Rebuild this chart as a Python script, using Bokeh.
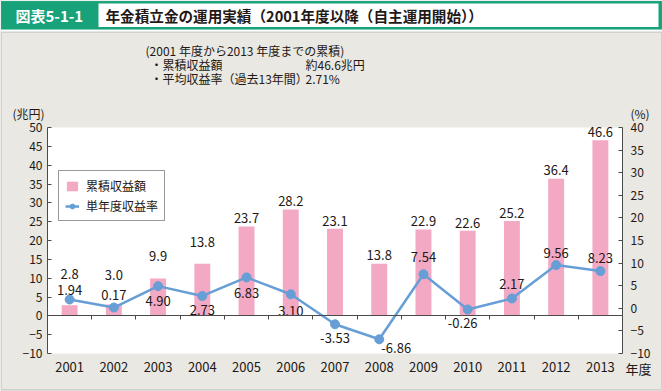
from bokeh.plotting import figure
from bokeh.models import (Range1d, LinearAxis, FixedTicker, ColumnDataSource,
                          Label, BoxAnnotation, Legend, LegendItem)
from bokeh.core.properties import value
from bokeh.embed import file_html
from bokeh.resources import INLINE

# ---------------- data ----------------
years = ["2001", "2002", "2003", "2004", "2005", "2006", "2007",
         "2008", "2009", "2010", "2011", "2012", "2013"]
cumulative = [2.8, 3.0, 9.9, 13.8, 23.7, 28.2, 23.1, 13.8, 22.9, 22.6, 25.2, 36.4, 46.6]
annual_rate = [1.94, 0.17, 4.90, 2.73, 6.83, 3.10, -3.53, -6.86, 7.54, -0.26, 2.17, 9.56, 8.23]
left_ticks = [-10, -5, 0, 5, 10, 15, 20, 25, 30, 35, 40, 45, 50]
right_ticks = [-10, -5, 0, 5, 10, 15, 20, 25, 30, 35, 40]

# label placement tweaks (pixels)
bar_label_lift = [31, 30, 23, 22, 8.5, 8.5, 8, 8.5, 8.5, 8, 8, 9, 8]
rate_label_dy = [-10, -12.5, 15, 14, 15.5, 16.5, 14, 9, -17, 14, -14, -12, -13]
rate_label_dx = [0, 0, 0, 0, 0, 0, 0, 17, 0, -5, 0, 0, 0]

FONT_NAME = "Noto Sans CJK JP"
FONT = value(FONT_NAME)
TXT = "#231815"
AX = "#4a4a4a"
PINK = "#f3a8c4"
BLUE = "#679ed6"
GREEN = "#17a27a"
PANEL = "#e9e8e2"

# canvas and plot-area geometry (pixels)
W, H = 662, 391
PL, PR, PT, PB = 47, 622, 127, 353

n = len(years)
idx = list(range(1, n + 1))
x0, x1 = 0.5, n + 0.5
lo, hi = left_ticks[0], left_ticks[-1]
rlo, rhi = right_ticks[0], right_ticks[-1]


def extend(a, b, p_a, p_b, edge_a, edge_b):
    """data range covering whole canvas given plot-area pixel mapping"""
    k = (b - a) / (p_b - p_a)
    return a - (p_a - edge_a) * k, b + (edge_b - p_b) * k


xs, xe = extend(x0, x1, PL, PR, 0, W)
ys, ye = extend(lo, hi, H - PB, H - PT, 0, H)
rys, rye = extend(rlo, rhi, H - PB, H - PT, 0, H)

p = figure(width=W, height=H, x_range=Range1d(xs, xe), y_range=Range1d(ys, ye),
           output_backend="svg", toolbar_location=None,
           x_axis_location=None, y_axis_location=None,
           min_border=0, min_border_left=0, min_border_right=0,
           min_border_top=0, min_border_bottom=0,
           background_fill_color=PANEL, border_fill_color=PANEL, outline_line_color=None)
p.grid.visible = False
p.extra_y_ranges = {"right": Range1d(rys, rye)}

# white plot area
p.add_layout(BoxAnnotation(left=x0, right=x1, bottom=lo, top=hi, fill_color="white",
                           fill_alpha=1, line_color=None, level="underlay"))


def style_axis(ax, size="12px"):
    ax.major_label_text_font = FONT_NAME
    ax.major_label_text_font_size = size
    ax.major_label_text_color = TXT
    ax.minor_tick_line_color = None
    ax.axis_line_color = AX
    ax.major_tick_line_color = AX
    ax.major_tick_in = 4
    ax.major_tick_out = 0


ya = LinearAxis(ticker=FixedTicker(ticks=left_ticks), fixed_location=x0, bounds=(lo, hi))
style_axis(ya)
ya.major_label_standoff = 5
p.add_layout(ya, "left")

ra = LinearAxis(y_range_name="right", ticker=FixedTicker(ticks=right_ticks),
                fixed_location=x1, bounds=(rlo, rhi))
style_axis(ra)
ra.major_label_standoff = 8
p.add_layout(ra, "right")

# year labels
xa = LinearAxis(ticker=FixedTicker(ticks=idx), fixed_location=lo,
                major_label_overrides={i: y for i, y in zip(idx, years)})
style_axis(xa, "13px")
xa.axis_line_color = None
xa.major_tick_line_color = None
xa.major_label_standoff = 8
p.add_layout(xa, "below")

# baseline at zero with ticks between categories
bounds_ticks = [i + 0.5 for i in idx[:-1]]
za = LinearAxis(ticker=FixedTicker(ticks=bounds_ticks), fixed_location=0, bounds=(x0, x1),
                major_label_overrides={t: "" for t in bounds_ticks})
style_axis(za)
za.major_tick_in = 0
za.major_tick_out = 4
p.add_layout(za, "below")

# bars
src_b = ColumnDataSource(dict(x=idx, top=cumulative,
                              lab=[f"{v:.1f}" for v in cumulative],
                              dy=[-v for v in bar_label_lift]))
bars = p.vbar(x="x", top="top", bottom=0, width=0.36, source=src_b,
              fill_color=PINK, line_color=None)

# line
src_l = ColumnDataSource(dict(x=idx, y=annual_rate,
                              lab=[f"{v:.2f}" for v in annual_rate],
                              dx=rate_label_dx, dy=rate_label_dy))
line = p.line(x="x", y="y", source=src_l, y_range_name="right", line_color=BLUE, line_width=2.5)
dots = p.scatter(x="x", y="y", source=src_l, y_range_name="right", size=9,
                 fill_color=BLUE, line_color=BLUE)

p.text(x="x", y="top", text="lab", source=src_b, y_offset="dy",
       text_font=FONT, text_font_size="13px", text_color=TXT,
       text_align="center", text_baseline="middle")
p.text(x="x", y="y", text="lab", source=src_l, y_range_name="right",
       x_offset="dx", y_offset="dy",
       text_font=FONT, text_font_size="13px", text_color=TXT,
       text_align="center", text_baseline="middle")

# legend (location = bottom-left corner, from bottom-left of canvas)
legend = Legend(items=[LegendItem(label="累積収益額", renderers=[bars]),
                       LegendItem(label="単年度収益率", renderers=[line, dots])],
                location=(58, H - 221), border_line_color="#333333", border_line_width=1,
                background_fill_color="white", background_fill_alpha=1,
                label_text_font=FONT_NAME, label_text_font_size="12px", label_text_color=TXT,
                glyph_width=14, glyph_height=12, label_standoff=7, padding=6,
                spacing=3, margin=0, label_height=14)
p.add_layout(legend)


def box(bx0, by0, bx1, by1, **kw):
    p.add_layout(BoxAnnotation(left=bx0, right=bx1, top=by0, bottom=by1,
                               left_units="canvas", right_units="canvas",
                               top_units="canvas", bottom_units="canvas", **kw))


# header and panel frame
box(0, 0, W, 31, fill_color="white", fill_alpha=1, line_color=None)
box(0.5, 0.5, 661.5, 29, fill_color=GREEN, fill_alpha=1, line_color="#6cc2a1", line_width=1)
box(98, 3, 658, 26.5, fill_color="white", fill_alpha=1, line_color=None)
box(0.75, 31.75, 661.25, 389.25, fill_color=None, line_color="#9a9a9a", line_width=1.5)


def label(x, y, text, size="12px", color=TXT, bold=False, align="left"):
    p.add_layout(Label(x=x, y=y, x_units="canvas", y_units="canvas", text=text,
                       text_font=FONT_NAME, text_font_size=size, text_color=color,
                       text_font_style="bold" if bold else "normal",
                       text_align=align, text_baseline="middle"))


label(15, 15, "図表5-1-1", "15px", "white", True)
label(105, 15, "年金積立金の運用実績（2001年度以降（自主運用開始））", "14.6px", TXT, True)
label(145, 50, "(2001 年度から2013 年度までの累積)")
label(150, 64, "・累積収益額")
label(305, 64, "約46.6兆円")
label(150, 78, "・平均収益率（過去13年間）")
label(305, 78, "2.71%")
label(12, 113, "(兆円)")
label(630, 113, "(%)")
label(625, 368, "年度", "13px")

open("out.html", "w").write(file_html(p, INLINE))
